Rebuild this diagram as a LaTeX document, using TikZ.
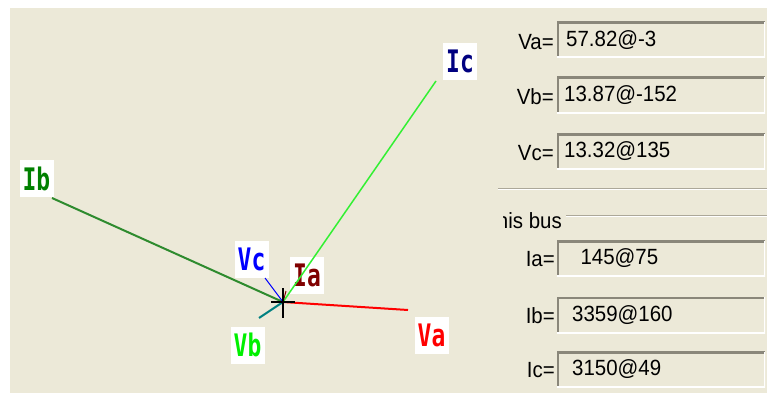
\documentclass[tikz,border=0pt]{standalone}
\usepackage{fontspec}
\setmainfont{Liberation Sans}
\newfontfamily\vecfont[UprightFont=* Bold, FakeStretch=0.74]{DejaVu Sans Mono}
\newfontfamily\panelfont[FakeStretch=0.93]{Liberation Sans}
\definecolor{winbg}{HTML}{ECE9D8}
\definecolor{fielddark}{HTML}{8A877A}
\definecolor{groove}{HTML}{ACA899}
\definecolor{ibcol}{HTML}{2E8B2E}
\definecolor{ibtxt}{HTML}{008000}
\definecolor{iccol}{HTML}{33F033}
\definecolor{ictxt}{HTML}{000080}
\definecolor{vbcol}{HTML}{008080}
\definecolor{vbtxt}{HTML}{00F000}
\definecolor{iatxt}{HTML}{800000}

\begin{document}
\begin{tikzpicture}[x=1pt, y=-1pt,
  veclab/.style={fill=white, inner sep=0pt, minimum width=34pt, minimum height=37pt,
                 font=\vecfont\fontsize{31}{31}\selectfont},
  vec/.style={line width=2pt},
  fname/.style={anchor=east, inner sep=0pt, font=\panelfont\fontsize{22}{24}\selectfont},
  field/.style={anchor=west, inner xsep=7pt, inner ysep=0pt, text width=194pt, align=left,
                minimum height=36pt, font=\panelfont\fontsize{22}{24}\selectfont,
                path picture={
                  \draw[fielddark, line width=4pt] (path picture bounding box.south west) |- (path picture bounding box.north east);
                  \draw[white, line width=3pt] (path picture bounding box.south west) -| (path picture bounding box.north east);}}
]
\useasboundingbox (0,0) rectangle (767,393);
\fill[winbg] (10,8) rectangle (767,393);

% ---- Phasor labels ----
\node[veclab, text=ibtxt] (ib) at (36.5,178.5) {Ib};
\node[veclab, text=ictxt] (ic) at (460,61.5) {Ic};
\node[veclab, text=red] (va) at (431.5,335) {Va};
\node[veclab, text=vbtxt] (vb) at (247.5,345) {Vb};
\node[veclab, text=blue] (vc) at (251.5,259) {Vc};
\node[veclab, text=iatxt] (ia) at (307,275) {Ia};

% ---- Phasor plot ----
\coordinate (o) at (283,302);
\coordinate (ibEnd) at (52,198);
\coordinate (icEnd) at (436,81);
\coordinate (vaEnd) at (408,310);
\coordinate (vbEnd) at (259,318);
\coordinate (vcEnd) at (265,278);
\coordinate (iaEnd) at (286,291);

\draw[vec, ibcol] (o) -- (ibEnd);
\draw[line width=1.5pt, iccol] (o) -- (icEnd);
\draw[vec, red] (o) -- (vaEnd);
\draw[vec, vbcol] (o) -- (vbEnd);
\draw[line width=1pt, blue] (o) -- (vcEnd);
\draw[line width=1pt, iatxt] (o) -- (iaEnd);
\draw[line width=1.5pt] ([xshift=-12pt]o) -- ([xshift=12pt]o);
\draw[line width=1.5pt] ([yshift=14pt]o) -- ([yshift=-16pt]o);

% ---- Voltage readouts ----
\foreach \n/\y/\v/\d in {Va/40/57.82@-3/2, Vb/95/13.87@-152/0, Vc/151.5/13.32@135/0}
  {\node[fname] (l\n) at (554,\y+2) {\n=};
   \node[field] (f\n) at (557,\y) {\hspace*{\d pt}\v};}
\draw[groove] (498,188) -- (767,188);
\draw[white] (498,189.5) -- (767,189.5);

% ---- Current readouts ----
\begin{scope}
  \clip (503.5,200) rectangle (767,235);
  \node[fname] (grp) at (562,221) {this bus};
\end{scope}
\draw[groove] (566,215) -- (767,215);
\draw[white] (566,216.5) -- (767,216.5);
\foreach \n/\y/\v/\d in {Ia/258.5/\ 145@75/9, Ib/315/3359@160/8, Ic/369.5/3150@49/8}
  {\node[fname] (l\n) at (555,\y+1) {\n=};
   \node[field] (f\n) at (557,\y) {\hspace*{\d pt}\v};}

\end{tikzpicture}
\end{document}
